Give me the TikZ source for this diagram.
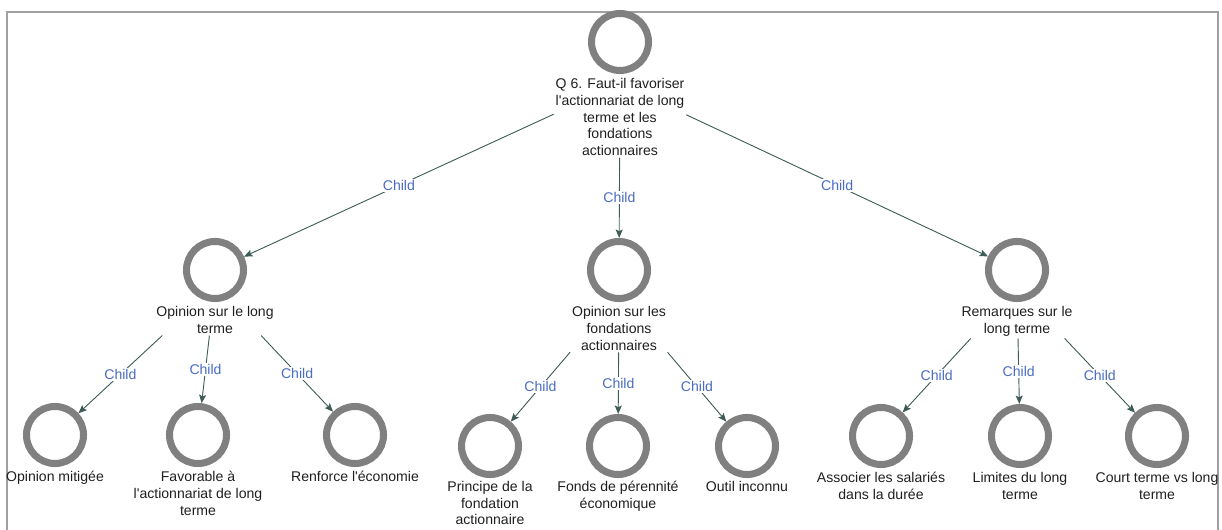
\documentclass[tikz,border=0pt]{standalone}
\usepackage{fontspec}
\newfontfamily\nvfont{Liberation Sans}
\usetikzlibrary{arrows.meta,positioning,fit}
\definecolor{ringgray}{HTML}{808080}
\definecolor{edgegreen}{HTML}{3E5C57}
\definecolor{childblue}{HTML}{4A6CC4}
\definecolor{framegray}{HTML}{A0A0A0}

\begin{document}
\begin{tikzpicture}[
    x=0.025cm, y=-0.025cm,
    every node/.style={font=\nvfont\fontsize{10}{11.9}\selectfont},
    ring/.style={circle, draw=ringgray, line width=5pt, minimum size=1.425cm, inner sep=0pt},
    caption/.style={align=center, inner sep=1pt, text=black!88},
    whole/.style={inner sep=0pt},
    link/.style={draw=edgegreen, line width=0.65pt, -{Stealth[length=6pt,width=5pt,inset=1.2pt]}},
    tag/.style={midway, fill=white, inner sep=1pt, text=childblue}
]
\useasboundingbox (0,0) rectangle (1222,530);
\draw[framegray, line width=1pt] (7,530) |- (1218,12) -- (1218,530);

\node[ring] (q6) at (620,42) {};
\node[caption, below=2pt of q6] (q6txt) {Q 6. Faut-il favoriser\\l'actionnariat de long\\terme et les\\fondations\\actionnaires};
\node[whole, fit=(q6)(q6txt)] (q6box) {};

\node[ring] (longterm) at (215,270) {};
\node[caption, below=2pt of longterm] (longtermtxt) {Opinion sur le long\\terme};
\node[whole, fit=(longterm)(longtermtxt)] (longtermbox) {};

\node[ring] (foundations) at (619,270) {};
\node[caption, below=2pt of foundations] (foundationstxt) {Opinion sur les\\fondations\\actionnaires};
\node[whole, fit=(foundations)(foundationstxt)] (foundationsbox) {};

\node[ring] (remarks) at (1017,270) {};
\node[caption, below=2pt of remarks] (remarkstxt) {Remarques sur le\\long terme};
\node[whole, fit=(remarks)(remarkstxt)] (remarksbox) {};

\node[ring] (mitigee) at (55,435) {};
\node[caption, below=2pt of mitigee] (mitigeetxt) {Opinion mitigée};
\node[ring] (favorable) at (198,435) {};
\node[caption, below=2pt of favorable] (favorabletxt) {Favorable à\\l'actionnariat de long\\terme};
\node[ring] (renforce) at (355,435) {};
\node[caption, below=2pt of renforce] (renforcetxt) {Renforce l'économie};

\node[ring] (principe) at (490,446) {};
\node[caption, below=1pt of principe] (principetxt) {Principe de la\\fondation\\actionnaire};
\node[ring] (fonds) at (618,446) {};
\node[caption, below=1pt of fonds] (fondstxt) {Fonds de pérennité\\économique};
\node[ring] (outil) at (747,446) {};
\node[caption, below=1pt of outil] (outiltxt) {Outil inconnu};

\node[ring] (associer) at (881,436) {};
\node[caption, below=2pt of associer] (associertxt) {Associer les salariés\\dans la durée};
\node[ring] (limites) at (1020,436) {};
\node[caption, below=2pt of limites] (limitestxt) {Limites du long\\terme};
\node[ring] (courtlong) at (1157,436) {};
\node[caption, below=2pt of courtlong] (courtlongtxt) {Court terme vs long\\terme};

\draw[link] (q6box) -- (longterm) node[tag] {Child};
\draw[link] (q6box) -- (foundations) node[tag] {Child};
\draw[link] (q6box) -- (remarks) node[tag] {Child};

\draw[link] (longtermbox) -- (mitigee) node[tag] {Child};
\draw[link] (longtermbox) -- (favorable) node[tag] {Child};
\draw[link] (longtermbox) -- (renforce) node[tag] {Child};

\draw[link] (foundationsbox) -- (principe) node[tag] {Child};
\draw[link] (foundationsbox) -- (fonds) node[tag] {Child};
\draw[link] (foundationsbox) -- (outil) node[tag] {Child};

\draw[link] (remarksbox) -- (associer) node[tag] {Child};
\draw[link] (remarksbox) -- (limites) node[tag] {Child};
\draw[link] (remarksbox) -- (courtlong) node[tag] {Child};
\end{tikzpicture}
\end{document}
